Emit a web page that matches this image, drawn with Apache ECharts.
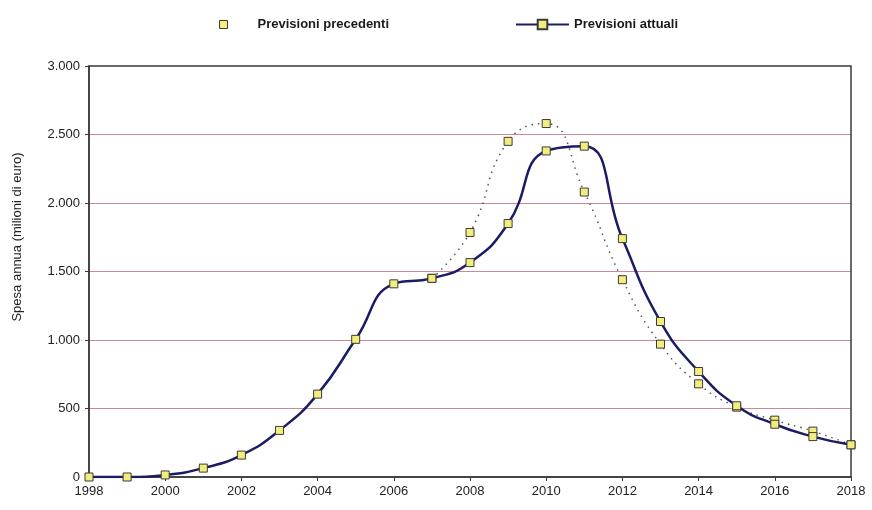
<!DOCTYPE html>
<html>
<head>
<meta charset="utf-8">
<script src="https://cdn.jsdelivr.net/npm/echarts@6/dist/echarts.min.js"></script>
<style>html,body{margin:0;padding:0;background:#fff}#c{width:872px;height:510px}</style>
</head>
<body>
<div id="c"></div>
<script>
var years = [1998,1999,2000,2001,2002,2003,2004,2005,2006,2007,2008,2009,2010,2011,2012,2013,2014,2015,2016,2017,2018];
var attuali = [0,0,15,65,160,340,605,1005,1410,1450,1565,1850,2380,2415,1740,1135,770,520,385,295,235];
var precedentiYears = [2007,2008,2009,2010,2011,2012,2013,2014,2015,2016,2017,2018];
var precedenti = [1450,1785,2450,2580,2080,1440,970,680,510,415,335,235];
var yTicks = [0,500,1000,1500,2000,2500,3000];
var seriesNames = ['Previsioni precedenti','Previsioni attuali'];
var yTitle = 'Spesa annua (milioni di euro)';

var font = 'Liberation Sans, Arial, sans-serif';
var markerStyle = {color:'#f3ee7c', borderColor:'#3a3a3a', borderWidth:1};

function fmtThousands(v){
  return String(v).replace(/\B(?=(\d{3})+(?!\d))/g, '.');
}

var chart = echarts.init(document.getElementById('c'), null, {renderer:'canvas'});
chart.setOption({
  backgroundColor:'#ffffff',
  animation:false,
  textStyle:{fontFamily:font},
  grid:{left:89, right:21, top:66, bottom:33, show:true, borderColor:'#3a3a3a', borderWidth:1.5, backgroundColor:'transparent', z:3},
  legend:[
    {data:[{name:seriesNames[0], icon:'rect', itemStyle:markerStyle}], left:214, top:13, itemWidth:8, itemHeight:8,
     textStyle:{fontFamily:font, fontSize:13, fontWeight:'bold', color:'#1a1a1a', padding:[0,0,0,25]}, selectedMode:false},
    {data:[seriesNames[1]], left:510, top:13, itemWidth:53, itemHeight:12,
     textStyle:{fontFamily:font, fontSize:13, fontWeight:'bold', color:'#1a1a1a'}, selectedMode:false}
  ],
  xAxis:{
    type:'value', min:years[0], max:years[years.length-1], interval:2,
    axisLine:{show:true, lineStyle:{color:'#3a3a3a', width:1.5}},
    axisTick:{show:true, inside:false, length:4, lineStyle:{color:'#3a3a3a'}},
    axisLabel:{formatter:function(v){return String(v);}, fontSize:13, color:'#222', margin:8, fontFamily:font},
    splitLine:{show:false}
  },
  yAxis:{
    type:'value', min:yTicks[0], max:yTicks[yTicks.length-1], interval:500,
    axisLine:{show:true, lineStyle:{color:'#3a3a3a', width:1.5}},
    axisTick:{show:true, inside:false, length:4, lineStyle:{color:'#3a3a3a'}},
    axisLabel:{formatter:function(v){return fmtThousands(v);}, fontSize:13, color:'#222', margin:9, fontFamily:font},
    splitLine:{show:true, showMinLine:false, showMaxLine:false, lineStyle:{color:'#c98a96', width:1}}
  },
  graphic:[{
    type:'text', x:17, y:237, rotation:Math.PI/2,
    style:{text:yTitle, fill:'#222', font:'13px '+font, textAlign:'center', textVerticalAlign:'middle'}
  }],
  series:[
    {
      name:seriesNames[0], type:'line', smooth:0.5,
      data:precedentiYears.map(function(y,i){return [y, precedenti[i]];}),
      symbol:'rect', symbolSize:8,
      lineStyle:{color:'#555', width:1.5, type:[1.5,5]},
      itemStyle:markerStyle, z:3
    },
    {
      name:seriesNames[1], type:'line', smooth:0.5,
      data:years.map(function(y,i){return [y, attuali[i]];}),
      symbol:'rect', symbolSize:8,
      lineStyle:{color:'#1c1c66', width:2.5},
      itemStyle:markerStyle, z:4
    }
  ]
});
</script>
</body>
</html>
